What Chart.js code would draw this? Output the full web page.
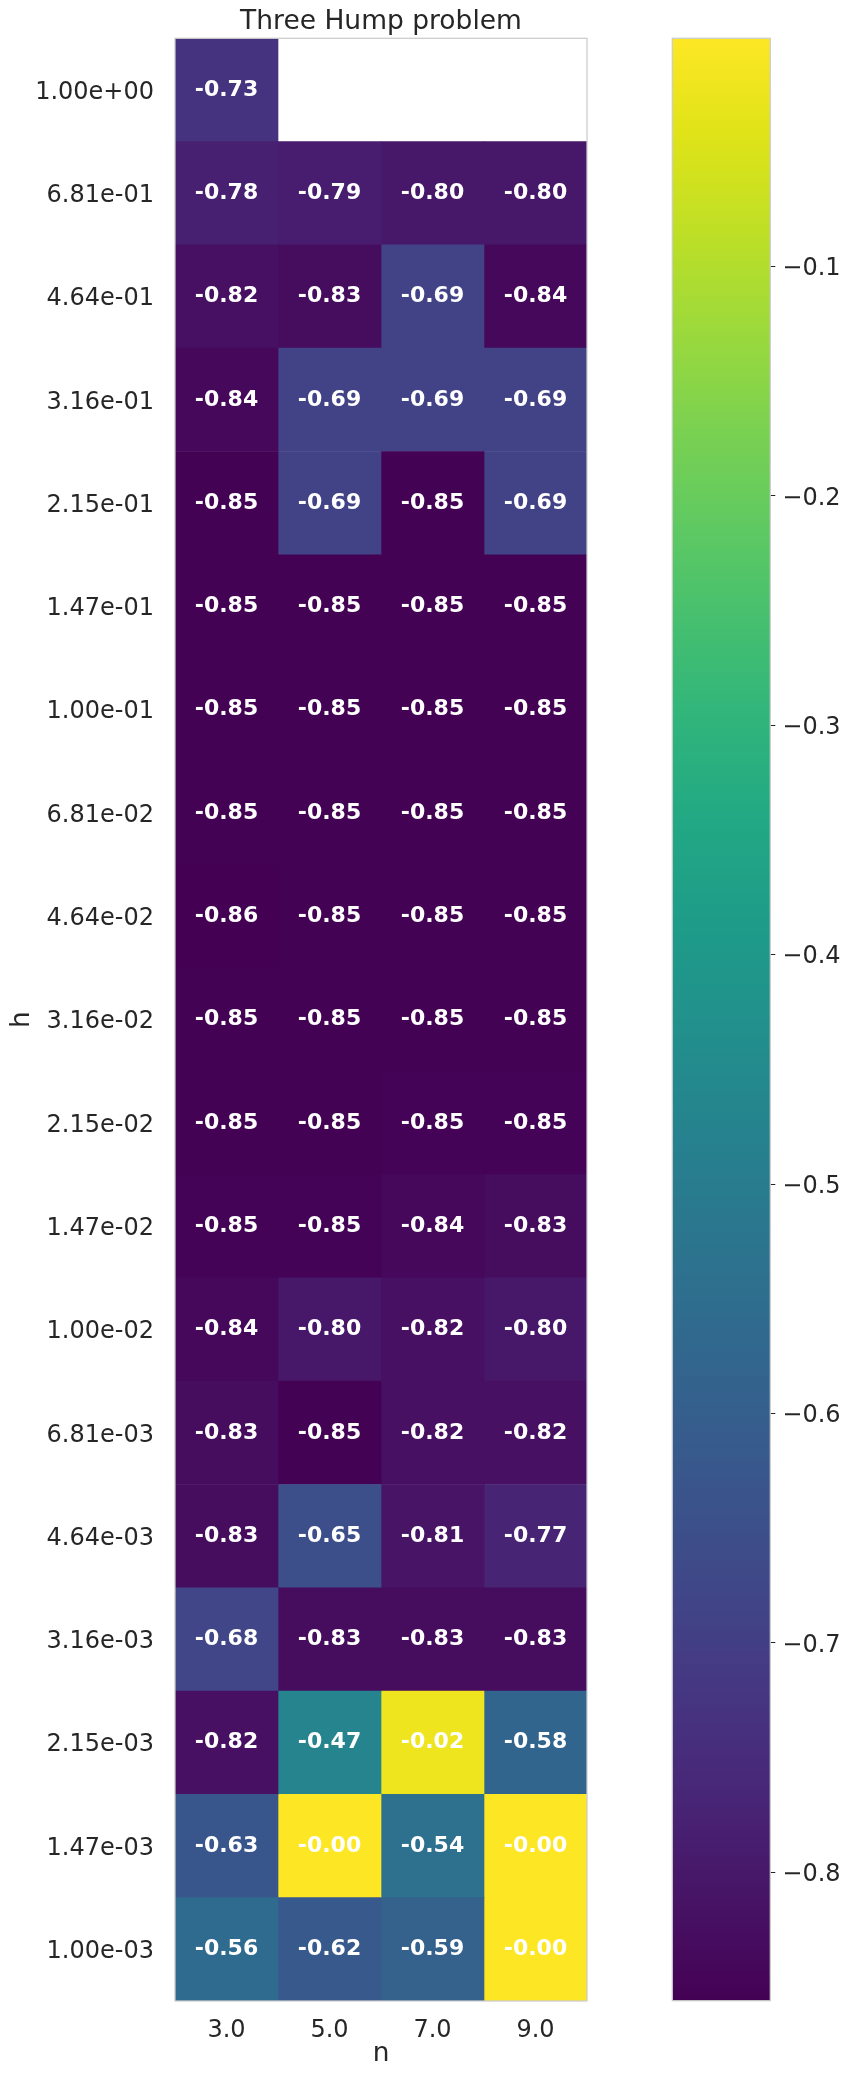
<!DOCTYPE html>
<html><head><meta charset="utf-8">
<script src="https://cdn.jsdelivr.net/npm/chart.js@4.4.1/dist/chart.umd.min.js"></script>
<style>
html,body{margin:0;padding:0;background:#fff}
#wrap{position:relative;width:851px;height:2078px}
canvas{position:absolute;left:0;top:0}
</style>
</head><body>
<div id="wrap"><canvas id="heat" width="851" height="2078"></canvas><canvas id="cbar" width="851" height="2078"></canvas></div>
<script>
// ---- data ----
const nLabels = ['3.0', '5.0', '7.0', '9.0'];
const hLabels = ['1.00e+00','6.81e-01','4.64e-01','3.16e-01','2.15e-01','1.47e-01','1.00e-01','6.81e-02','4.64e-02','3.16e-02','2.15e-02','1.47e-02','1.00e-02','6.81e-03','4.64e-03','3.16e-03','2.15e-03','1.47e-03','1.00e-03'];
const n3 = [-0.73,-0.78,-0.82,-0.84,-0.853,-0.853,-0.853,-0.853,-0.856,-0.853,-0.853,-0.852,-0.84,-0.83,-0.83,-0.68,-0.82,-0.63,-0.56];
const n5 = [null,-0.79,-0.83,-0.69,-0.69,-0.853,-0.853,-0.853,-0.853,-0.853,-0.853,-0.852,-0.80,-0.853,-0.65,-0.83,-0.47,-0.001,-0.62];
const n7 = [null,-0.80,-0.69,-0.69,-0.853,-0.853,-0.853,-0.853,-0.853,-0.853,-0.852,-0.84,-0.82,-0.82,-0.81,-0.83,-0.02,-0.54,-0.59];
const n9 = [null,-0.80,-0.84,-0.69,-0.69,-0.853,-0.853,-0.853,-0.853,-0.853,-0.852,-0.83,-0.80,-0.82,-0.77,-0.83,-0.58,-0.001,-0.0005];
const cbTicks = [-0.1,-0.2,-0.3,-0.4,-0.5,-0.6,-0.7,-0.8];
const title = 'Three Hump problem';

// ---- colormap ----
const VIRIDIS = ['#440154','#471365','#482475','#463480','#414487','#3b528b','#355f8d','#2f6c8e','#2a788e','#25848e','#21918c','#1e9c89','#22a884','#2fb47c','#44bf70','#5ec962','#7ad151','#9bd93c','#bddf26','#dfe318','#fde725'];
function hexToRgb(h){return [parseInt(h.slice(1,3),16),parseInt(h.slice(3,5),16),parseInt(h.slice(5,7),16)];}
const VRGB = VIRIDIS.map(hexToRgb);
function viridis(t){
  t = Math.max(0, Math.min(1, t));
  const p = t * (VRGB.length - 1);
  const i = Math.min(Math.floor(p), VRGB.length - 2);
  const f = p - i;
  const a = VRGB[i], b = VRGB[i+1];
  return 'rgb(' + [0,1,2].map(k => Math.round(a[k] + (b[k]-a[k])*f)).join(',') + ')';
}

const cols = [n3, n5, n7, n9];
const allVals = cols.flat().filter(v => v !== null);
const vmin = Math.min(...allVals), vmax = Math.max(...allVals);

Chart.defaults.font.family = "'DejaVu Sans', sans-serif";
Chart.defaults.color = '#262626';

const frame = {
  id: 'frame',
  afterDraw(chart){
    const a = chart.chartArea, ctx = chart.ctx;
    ctx.save(); ctx.strokeStyle = '#cccccc'; ctx.lineWidth = 1.25;
    ctx.strokeRect(a.left, a.top, a.right - a.left, a.bottom - a.top);
    ctx.restore();
  }
};

const cellLabels = {
  id: 'cellLabels',
  afterDatasetsDraw(chart){
    const ctx = chart.ctx;
    ctx.save();
    ctx.font = "bold 22px 'DejaVu Sans'";
    ctx.fillStyle = '#ffffff';
    ctx.textAlign = 'center';
    ctx.textBaseline = 'middle';
    chart.data.datasets.forEach((ds, di) => {
      const meta = chart.getDatasetMeta(di);
      meta.data.forEach((el, i) => {
        const v = ds.values[i];
        if (v === null) return;
        const p = el.getProps(['x','base','y'], true);
        ctx.fillText(v.toFixed(2), (p.x + p.base) / 2, p.y);
      });
    });
    ctx.restore();
  }
};

new Chart(document.getElementById('heat'), {
  type: 'bar',
  data: {
    labels: hLabels,
    datasets: cols.map((vals, ci) => ({
      data: vals.map(v => v === null ? null : [ci, ci + 1]),
      values: vals,
      backgroundColor: vals.map(v => v === null ? 'rgba(0,0,0,0)' : viridis((v - vmin) / (vmax - vmin))),
      borderWidth: 0,
      grouped: false,
      barPercentage: 1,
      categoryPercentage: 1
    }))
  },
  options: {
    indexAxis: 'y',
    responsive: false,
    animation: false,
    events: [],
    layout: { padding: { left: 0, right: 264, top: 0, bottom: 0 } },
    plugins: {
      legend: { display: false },
      tooltip: { enabled: false },
      title: { display: true, text: title, fullSize: false, color: '#262626',
               font: { size: 26.5, weight: 'normal' }, padding: { top: 6.5, bottom: 0 } }
    },
    scales: {
      x: {
        type: 'linear', min: 0, max: 4, position: 'bottom',
        afterBuildTicks: ax => { ax.ticks = nLabels.map((_, i) => ({ value: i + 0.5 })); },
        ticks: { callback: (v, i) => nLabels[i], font: { size: 24 }, color: '#262626', padding: 7.5, maxRotation: 0, autoSkip: false },
        grid: { display: false }, border: { display: false },
        title: { display: true, text: 'n', font: { size: 26.4 }, color: '#262626', padding: { top: 0, bottom: 8.5 } },
        afterFit: s => { s.height = 77; }
      },
      y: {
        position: 'left',
        ticks: { font: { size: 24 }, color: '#262626', padding: 13, autoSkip: false, labelOffset: 2.5 },
        grid: { display: false }, border: { display: false },
        title: { display: true, text: 'h', font: { size: 26.4 }, color: '#262626', padding: { top: 6, bottom: 0 } },
        afterFit: s => { s.width = 175; }
      }
    }
  },
  plugins: [cellLabels, frame]
});

new Chart(document.getElementById('cbar'), {
  type: 'bar',
  data: {
    labels: [''],
    datasets: [{
      data: [[vmin, vmax]],
      backgroundColor: (c) => {
        const ch = c.chart, ys = ch.scales.y;
        if (!ys || !ch.chartArea) return viridis(0.5);
        const g = ch.ctx.createLinearGradient(0, ys.getPixelForValue(vmin), 0, ys.getPixelForValue(vmax));
        VIRIDIS.forEach((col, i) => g.addColorStop(i / (VIRIDIS.length - 1), col));
        return g;
      },
      borderWidth: 0,
      barPercentage: 1,
      categoryPercentage: 1
    }]
  },
  options: {
    responsive: false,
    animation: false,
    events: [],
    layout: { padding: { left: 672.3, right: 0, top: 38.3, bottom: 77.3 } },
    plugins: { legend: { display: false }, tooltip: { enabled: false } },
    scales: {
      x: { display: false },
      y: {
        position: 'right', min: vmin, max: vmax,
        afterBuildTicks: ax => { ax.ticks = cbTicks.map(v => ({ value: v })); },
        ticks: { callback: v => '\u2212' + Math.abs(v).toFixed(1), font: { size: 24 }, color: '#262626', padding: 7, labelOffset: 2.5 },
        grid: { drawOnChartArea: false, drawTicks: true, tickLength: 5, color: '#262626', lineWidth: 1 },
        border: { display: false },
        afterFit: s => { s.width = 80.7; }
      }
    }
  },
  plugins: [frame]
});
</script>
</body></html>
